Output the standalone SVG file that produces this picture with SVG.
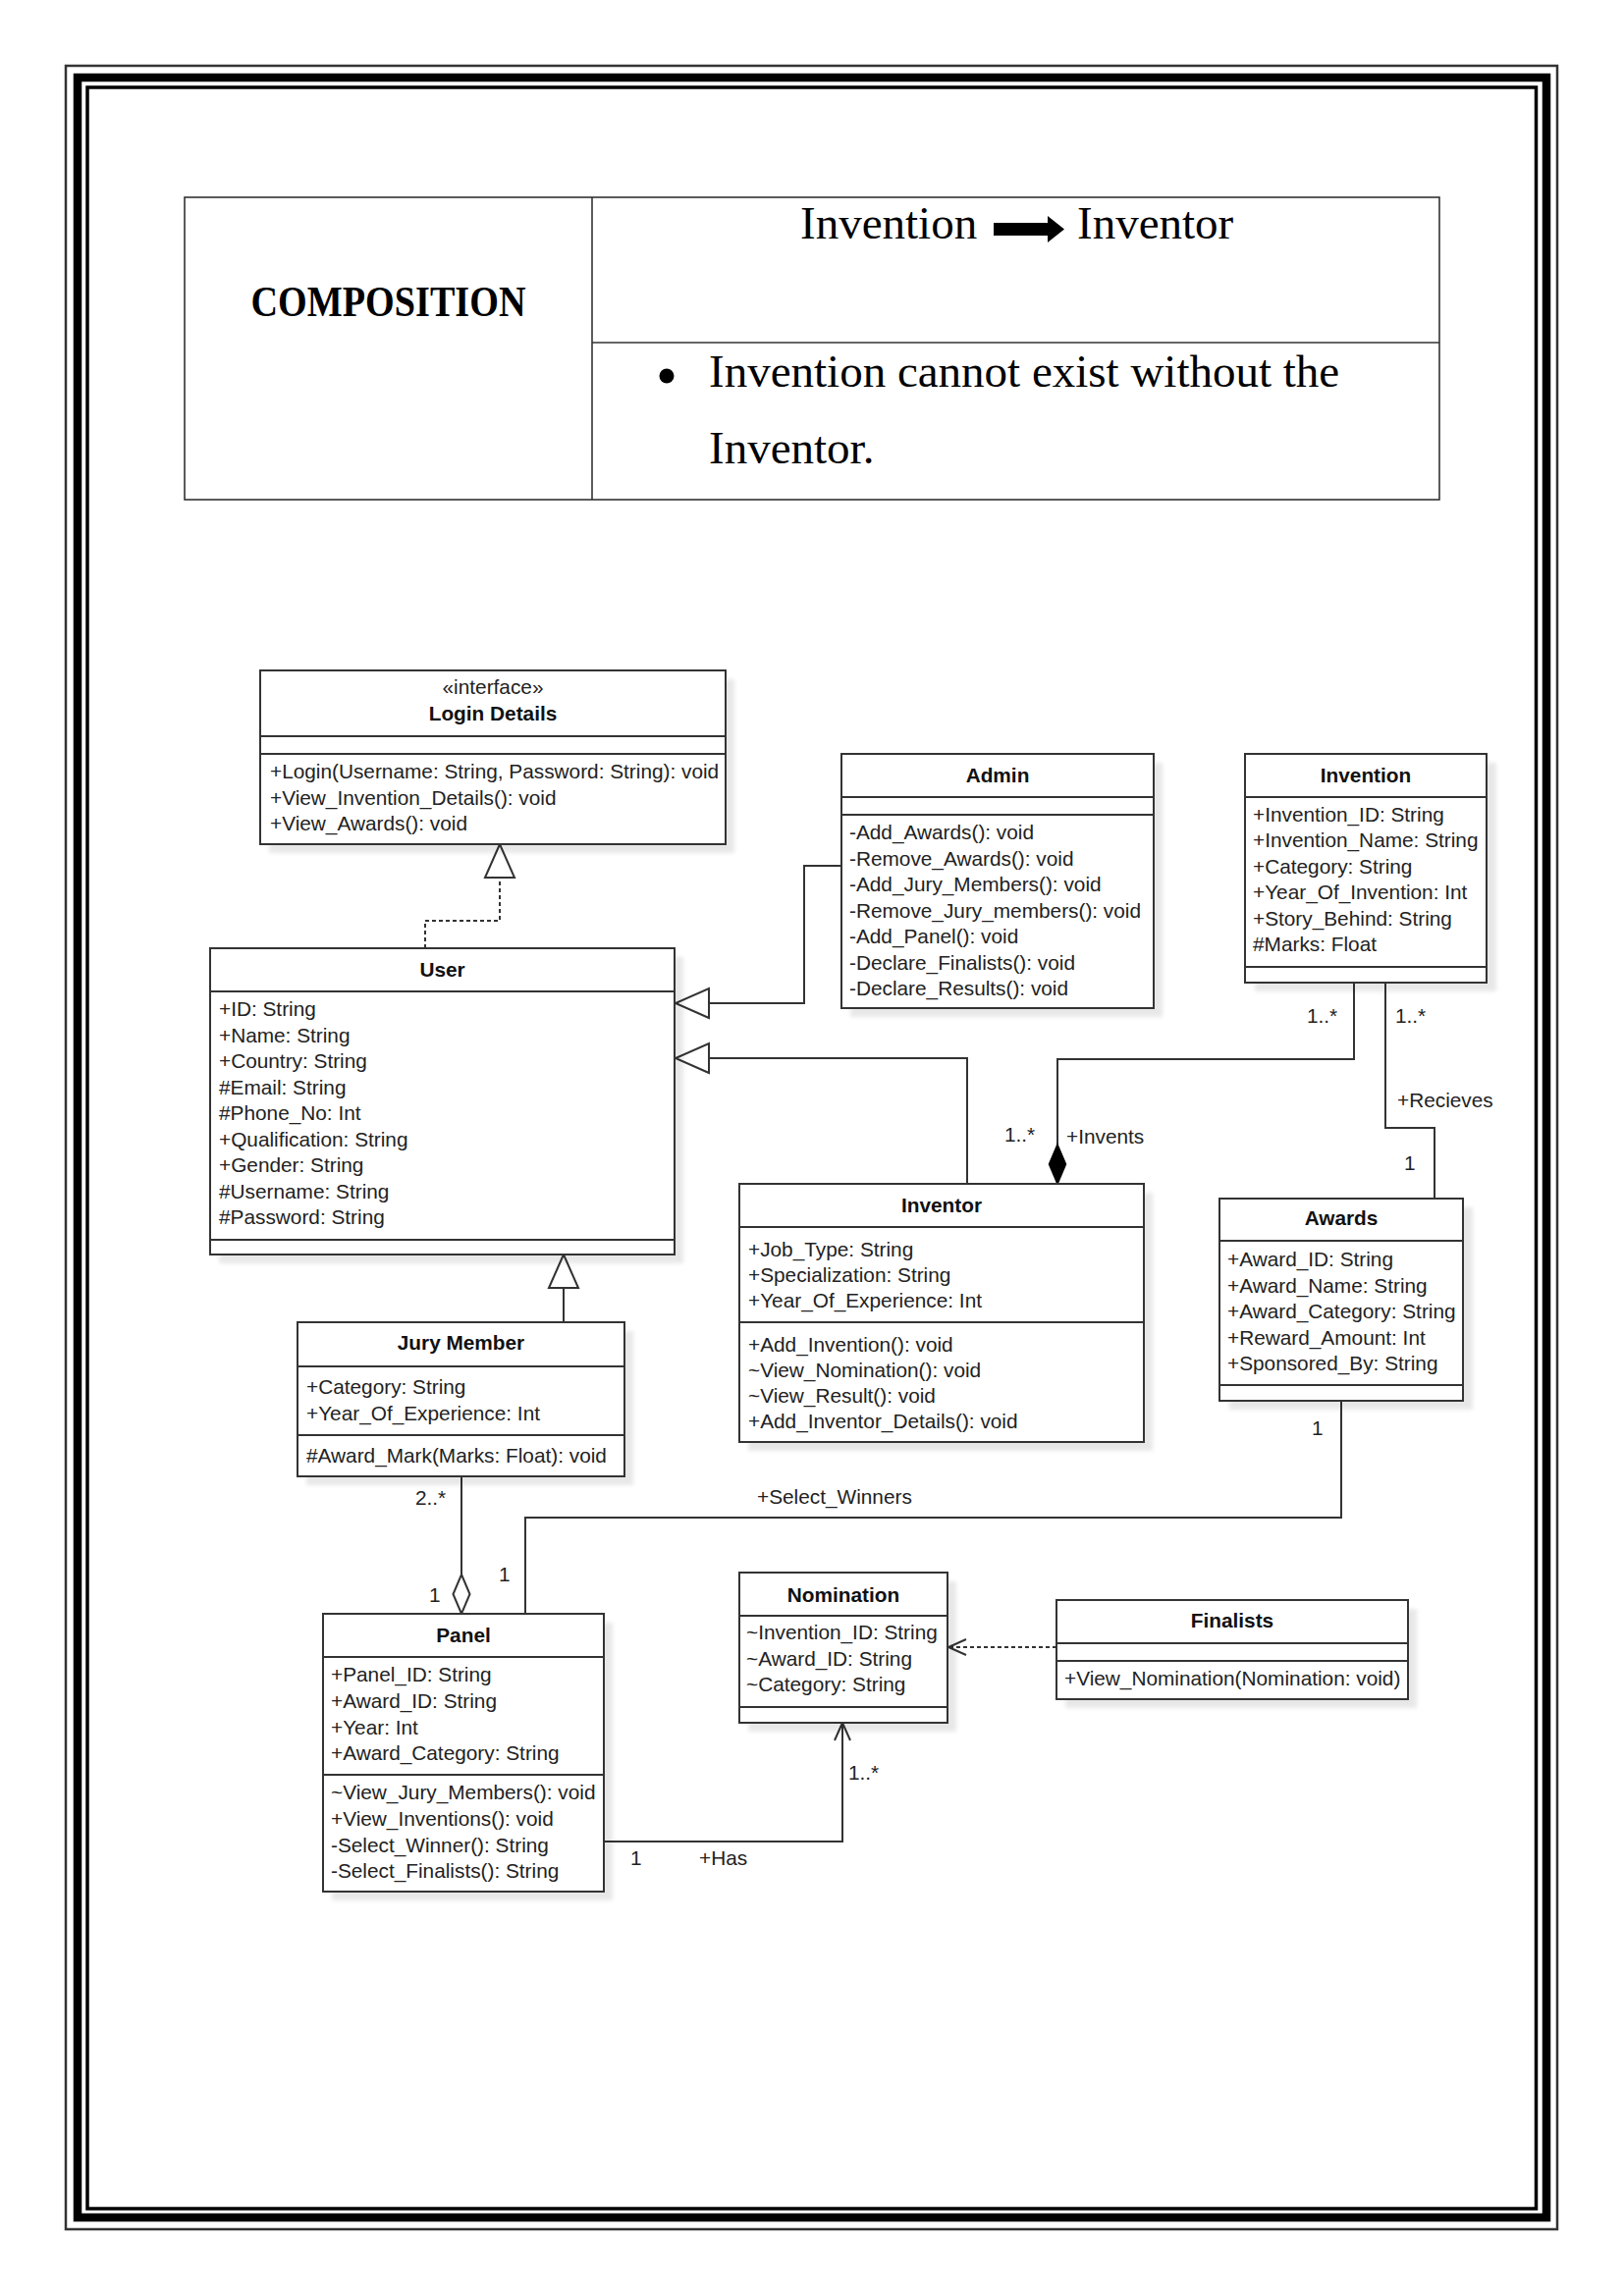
<svg xmlns="http://www.w3.org/2000/svg" width="1654" height="2339" viewBox="0 0 1654 2339">
<style>
.bx{fill:#fff;stroke:#333;stroke-width:2}
.sh{fill:#000;opacity:.09}
.dv{stroke:#333;stroke-width:2}
.t{font-family:"Liberation Sans",Arial,sans-serif;font-size:20.8px;fill:#222}
.h{font-family:"Liberation Sans",Arial,sans-serif;font-size:20.8px;font-weight:bold;fill:#111;text-anchor:middle}
.st{font-family:"Liberation Sans",Arial,sans-serif;font-size:20.8px;fill:#222;text-anchor:middle}
.c{fill:none;stroke:#333;stroke-width:2}
.dash{stroke-dasharray:4 3}
.sf{font-family:"Liberation Serif","Times New Roman",serif;fill:#000}
.tb{fill:none;stroke:#333;stroke-width:1.6}
</style>
<defs>
<filter id="blur" x="-5%" y="-5%" width="110%" height="110%"><feGaussianBlur stdDeviation="2"/></filter>
<marker id="tri" viewBox="0 0 34 30" refX="34" refY="15" markerWidth="34" markerHeight="30" markerUnits="userSpaceOnUse" orient="auto" overflow="visible">
<path d="M0,0 L34,15 L0,30 Z" fill="#fff" stroke="#333" stroke-width="2"/>
</marker>
<marker id="dfill" viewBox="0 0 40 17" refX="40" refY="8.5" markerWidth="40" markerHeight="17" markerUnits="userSpaceOnUse" orient="auto" overflow="visible">
<path d="M0,8.5 L20,0 L40,8.5 L20,17 Z" fill="#000" stroke="#000" stroke-width="1.5"/>
</marker>
<marker id="dhol" viewBox="0 0 40 17" refX="40" refY="8.5" markerWidth="40" markerHeight="17" markerUnits="userSpaceOnUse" orient="auto" overflow="visible">
<path d="M0,8.5 L20,0 L40,8.5 L20,17 Z" fill="#fff" stroke="#333" stroke-width="2"/>
</marker>
<marker id="open" viewBox="0 0 18 16" refX="18" refY="8" markerWidth="18" markerHeight="16" markerUnits="userSpaceOnUse" orient="auto" overflow="visible">
<path d="M0,0 L18,8 L0,16" fill="none" stroke="#333" stroke-width="2"/>
</marker>
</defs>
<rect x="0" y="0" width="1654" height="2339" fill="#fff"/>

<g id="page-border" fill="none" stroke="#000">
<rect x="67" y="67" width="1519" height="2204" stroke-width="2.5" stroke="#333"/>
<rect x="79" y="79" width="1496" height="2180" stroke-width="8.5"/>
<rect x="89" y="89" width="1475.5" height="2161" stroke-width="3.5"/>
</g>

<g id="table">
<rect class="tb" x="188" y="201" width="1278" height="308" stroke-width="2"/>
<line class="tb" x1="603" y1="201" x2="603" y2="509"/>
<line class="tb" x1="603" y1="349" x2="1466" y2="349" stroke-width="2"/>
<text class="sf" x="395.5" y="322" font-size="44" font-weight="bold" text-anchor="middle" textLength="280" lengthAdjust="spacingAndGlyphs">COMPOSITION</text>
<text class="sf" x="815" y="243" font-size="47">Invention</text>
<polygon points="1012,227 1067,227 1067,220 1084,233.5 1067,247 1067,240 1012,240" fill="#000"/>
<text class="sf" x="1097" y="243" font-size="47">Inventor</text>
<circle cx="679" cy="383" r="7.5" fill="#000"/>
<text class="sf" x="722" y="394" font-size="47">Invention cannot exist without the</text>
<text class="sf" x="722" y="472" font-size="47">Inventor.</text>
</g>

<g id="connectors">
<path class="c dash" d="M433,966 V938 H509 V860" marker-end="url(#tri)"/>
<path class="c" d="M857,882 H819 V1022 H688" marker-end="url(#tri)"/>
<path class="c" d="M985,1206 V1078 H688" marker-end="url(#tri)"/>
<path class="c" d="M574,1347 V1278" marker-end="url(#tri)"/>
<path class="c" d="M1379,1001 V1079 H1077 V1206" marker-end="url(#dfill)"/>
<path class="c" d="M1411,1001 V1149 H1461 V1221"/>
<path class="c" d="M470,1504 V1644" marker-end="url(#dhol)"/>
<path class="c" d="M535,1644 V1546 H1366 V1427"/>
<path class="c" d="M615,1876 H858 V1755" marker-end="url(#open)"/>
<path class="c dash" d="M1076,1678 H966" marker-end="url(#open)"/>
<text class="t" x="1331" y="1042">1..*</text>
<text class="t" x="1421" y="1042">1..*</text>
<text class="t" x="1023" y="1163">1..*</text>
<text class="t" x="1086" y="1165">+Invents</text>
<text class="t" x="1423" y="1128">+Recieves</text>
<text class="t" x="1430" y="1192">1</text>
<text class="t" x="1336" y="1462">1</text>
<text class="t" x="771" y="1532">+Select_Winners</text>
<text class="t" x="423" y="1533">2..*</text>
<text class="t" x="437" y="1632">1</text>
<text class="t" x="508" y="1611">1</text>
<text class="t" x="864" y="1813">1..*</text>
<text class="t" x="642" y="1900">1</text>
<text class="t" x="712" y="1900">+Has</text>
</g>

<g id="login-details">
<rect class="sh" x="274" y="692" width="474" height="177" filter="url(#blur)"/>
<rect class="bx" x="265" y="683" width="474" height="177"/>
<line class="dv" x1="265" y1="750" x2="739" y2="750"/>
<line class="dv" x1="265" y1="768" x2="739" y2="768"/>
<text class="st" x="502" y="707">«interface»</text>
<text class="h" x="502" y="734">Login Details</text>
<text class="t" x="275" y="793">+Login(Username: String, Password: String): void</text>
<text class="t" x="275" y="820">+View_Invention_Details(): void</text>
<text class="t" x="275" y="846">+View_Awards(): void</text>
</g>

<g id="admin">
<rect class="sh" x="866" y="777" width="318" height="259" filter="url(#blur)"/>
<rect class="bx" x="857" y="768" width="318" height="259"/>
<line class="dv" x1="857" y1="812" x2="1175" y2="812"/>
<line class="dv" x1="857" y1="830" x2="1175" y2="830"/>
<text class="h" x="1016" y="797">Admin</text>
<text class="t" x="865" y="855">-Add_Awards(): void</text>
<text class="t" x="865" y="881.5">-Remove_Awards(): void</text>
<text class="t" x="865" y="908">-Add_Jury_Members(): void</text>
<text class="t" x="865" y="934.5">-Remove_Jury_members(): void</text>
<text class="t" x="865" y="961">-Add_Panel(): void</text>
<text class="t" x="865" y="987.5">-Declare_Finalists(): void</text>
<text class="t" x="865" y="1014">-Declare_Results(): void</text>
</g>

<g id="invention">
<rect class="sh" x="1278" y="777" width="246" height="233" filter="url(#blur)"/>
<rect class="bx" x="1268" y="768" width="246" height="233"/>
<line class="dv" x1="1268" y1="812" x2="1514" y2="812"/>
<line class="dv" x1="1268" y1="985" x2="1514" y2="985"/>
<text class="h" x="1391" y="797">Invention</text>
<text class="t" x="1276" y="837">+Invention_ID: String</text>
<text class="t" x="1276" y="863.4">+Invention_Name: String</text>
<text class="t" x="1276" y="889.8">+Category: String</text>
<text class="t" x="1276" y="916.2">+Year_Of_Invention: Int</text>
<text class="t" x="1276" y="942.6">+Story_Behind: String</text>
<text class="t" x="1276" y="969">#Marks: Float</text>
</g>

<g id="user">
<rect class="sh" x="223" y="975" width="473" height="312" filter="url(#blur)"/>
<rect class="bx" x="214" y="966" width="473" height="312"/>
<line class="dv" x1="214" y1="1010" x2="687" y2="1010"/>
<line class="dv" x1="214" y1="1263" x2="687" y2="1263"/>
<text class="h" x="450.5" y="995">User</text>
<text class="t" x="223" y="1035">+ID: String</text>
<text class="t" x="223" y="1061.5">+Name: String</text>
<text class="t" x="223" y="1088">+Country: String</text>
<text class="t" x="223" y="1114.5">#Email: String</text>
<text class="t" x="223" y="1141">#Phone_No: Int</text>
<text class="t" x="223" y="1167.5">+Qualification: String</text>
<text class="t" x="223" y="1194">+Gender: String</text>
<text class="t" x="223" y="1220.5">#Username: String</text>
<text class="t" x="223" y="1247">#Password: String</text>
</g>

<g id="inventor">
<rect class="sh" x="762" y="1215" width="412" height="263" filter="url(#blur)"/>
<rect class="bx" x="753" y="1206" width="412" height="263"/>
<line class="dv" x1="753" y1="1250" x2="1165" y2="1250"/>
<line class="dv" x1="753" y1="1347" x2="1165" y2="1347"/>
<text class="h" x="959" y="1235">Inventor</text>
<text class="t" x="762" y="1280">+Job_Type: String</text>
<text class="t" x="762" y="1306">+Specialization: String</text>
<text class="t" x="762" y="1332">+Year_Of_Experience: Int</text>
<text class="t" x="762" y="1377">+Add_Invention(): void</text>
<text class="t" x="762" y="1403">~View_Nomination(): void</text>
<text class="t" x="762" y="1429">~View_Result(): void</text>
<text class="t" x="762" y="1455">+Add_Inventor_Details(): void</text>
</g>

<g id="awards">
<rect class="sh" x="1252" y="1230" width="248" height="206" filter="url(#blur)"/>
<rect class="bx" x="1242" y="1221" width="248" height="206"/>
<line class="dv" x1="1242" y1="1264" x2="1490" y2="1264"/>
<line class="dv" x1="1242" y1="1411" x2="1490" y2="1411"/>
<text class="h" x="1366" y="1248">Awards</text>
<text class="t" x="1250" y="1290">+Award_ID: String</text>
<text class="t" x="1250" y="1316.5">+Award_Name: String</text>
<text class="t" x="1250" y="1343">+Award_Category: String</text>
<text class="t" x="1250" y="1369.5">+Reward_Amount: Int</text>
<text class="t" x="1250" y="1396">+Sponsored_By: String</text>
</g>

<g id="jury-member">
<rect class="sh" x="312" y="1356" width="333" height="157" filter="url(#blur)"/>
<rect class="bx" x="303" y="1347" width="333" height="157"/>
<line class="dv" x1="303" y1="1392" x2="636" y2="1392"/>
<line class="dv" x1="303" y1="1462" x2="636" y2="1462"/>
<text class="h" x="469.5" y="1375">Jury Member</text>
<text class="t" x="312" y="1420">+Category: String</text>
<text class="t" x="312" y="1447">+Year_Of_Experience: Int</text>
<text class="t" x="312" y="1490">#Award_Mark(Marks: Float): void</text>
</g>

<g id="panel">
<rect class="sh" x="338" y="1653" width="286" height="283" filter="url(#blur)"/>
<rect class="bx" x="329" y="1644" width="286" height="283"/>
<line class="dv" x1="329" y1="1688" x2="615" y2="1688"/>
<line class="dv" x1="329" y1="1808" x2="615" y2="1808"/>
<text class="h" x="472" y="1673">Panel</text>
<text class="t" x="337" y="1713">+Panel_ID: String</text>
<text class="t" x="337" y="1740">+Award_ID: String</text>
<text class="t" x="337" y="1767">+Year: Int</text>
<text class="t" x="337" y="1793">+Award_Category: String</text>
<text class="t" x="337" y="1833">~View_Jury_Members(): void</text>
<text class="t" x="337" y="1860">+View_Inventions(): void</text>
<text class="t" x="337" y="1887">-Select_Winner(): String</text>
<text class="t" x="337" y="1913">-Select_Finalists(): String</text>
</g>

<g id="nomination">
<rect class="sh" x="762" y="1611" width="212" height="153" filter="url(#blur)"/>
<rect class="bx" x="753" y="1602" width="212" height="153"/>
<line class="dv" x1="753" y1="1646" x2="965" y2="1646"/>
<line class="dv" x1="753" y1="1739" x2="965" y2="1739"/>
<text class="h" x="859" y="1632">Nomination</text>
<text class="t" x="760" y="1670">~Invention_ID: String</text>
<text class="t" x="760" y="1697">~Award_ID: String</text>
<text class="t" x="760" y="1723">~Category: String</text>
</g>

<g id="finalists">
<rect class="sh" x="1085" y="1639" width="358" height="101" filter="url(#blur)"/>
<rect class="bx" x="1076" y="1630" width="358" height="101"/>
<line class="dv" x1="1076" y1="1674" x2="1434" y2="1674"/>
<line class="dv" x1="1076" y1="1692" x2="1434" y2="1692"/>
<text class="h" x="1255" y="1658">Finalists</text>
<text class="t" x="1084" y="1717">+View_Nomination(Nomination: void)</text>
</g>
</svg>
